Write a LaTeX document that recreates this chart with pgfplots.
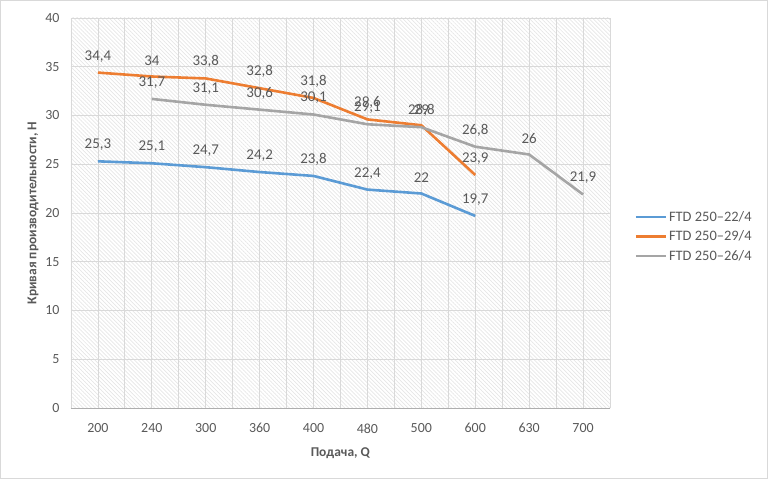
\documentclass[border=0pt]{standalone}
\usepackage{pgfplots}
\pgfplotsset{compat=1.18}
\usepackage{fontspec}
\setmainfont{Carlito}
\usetikzlibrary{patterns.meta}
\definecolor{cblue}{HTML}{5B9BD5}
\definecolor{corange}{HTML}{ED7D31}
\definecolor{cgray}{HTML}{A5A5A5}
\definecolor{txt}{HTML}{595959}
\definecolor{gridc}{HTML}{D9D9D9}
\definecolor{hatchc}{HTML}{E6E6E6}
\begin{document}
\begin{tikzpicture}
\useasboundingbox (-71bp,-71bp) rectangle (697bp,408bp);
\draw[color=gridc, line width=1.4bp] (-70.3bp,-70.3bp) rectangle (696.3bp,407.3bp);
\begin{axis}[
  at={(0,0)}, anchor=south west,
  scale only axis, width=539bp, height=390bp,
  xmin=-0.5, xmax=9.5, ymin=0, ymax=40,
  xtick={0,...,9},
  xticklabels={200,240,300,360,400,480,500,600,630,700},
  minor xtick={-0.5,0.5,...,9.5},
  ytick={0,5,...,40},
  major tick length=0pt, minor tick length=0pt,
  grid=both,
  major grid style={gridc, line width=0.8bp},
  minor grid style={gridc, line width=0.8bp},
  axis line style={draw=none},
  axis background/.style={pattern={Lines[angle=-45,distance=2.8bp,line width=0.7bp]}, pattern color=hatchc},
  tick label style={font=\fontsize{14}{16}\selectfont, text=txt},
  /pgf/number format/assume math mode=true,
  /pgf/number format/use comma,
  xticklabel style={yshift=-12bp},
  yticklabel style={xshift=-8bp},
  xlabel={\textbf{Подача, Q}},
  ylabel={\textbf{Кривая производительности, Н}},
  label style={font=\fontsize{13.5}{15}\selectfont, text=txt},
  xlabel style={yshift=-8bp},
  ylabel style={yshift=0bp},
  nodes near coords,
  every node near coord/.append style={font=\fontsize{15}{17}\selectfont, text=txt, yshift=6bp},
  legend style={at={(1.045,0.44)}, anchor=west, draw=none, fill=none,
    font=\fontsize{14.5}{17}\selectfont, text=txt, row sep=4bp, inner sep=0pt},
  legend cell align=left,
  legend image code/.code={\draw[#1] (0bp,0bp) -- (30bp,0bp);},
  every axis plot/.append style={line width=2.6bp, no markers},
]
\draw[gridc!80!black, line width=1bp] (axis cs:-0.5,0) -- (axis cs:9.5,0);
\addplot[cblue] coordinates {(0,25.3) (1,25.1) (2,24.7) (3,24.2) (4,23.8) (5,22.4) (6,22) (7,19.7)};
\addlegendentry{FTD 250–22/4}
\addplot[corange] coordinates {(0,34.4) (1,34) (2,33.8) (3,32.8) (4,31.8) (5,29.6) (6,29) (7,23.9)};
\addlegendentry{FTD 250–29/4}
\addplot[cgray] coordinates {(1,31.7) (2,31.1) (3,30.6) (4,30.1) (5,29.1) (6,28.8) (7,26.8) (8,26) (9,21.9)};
\addlegendentry{FTD 250–26/4}
\end{axis}
\end{tikzpicture}
\end{document}
